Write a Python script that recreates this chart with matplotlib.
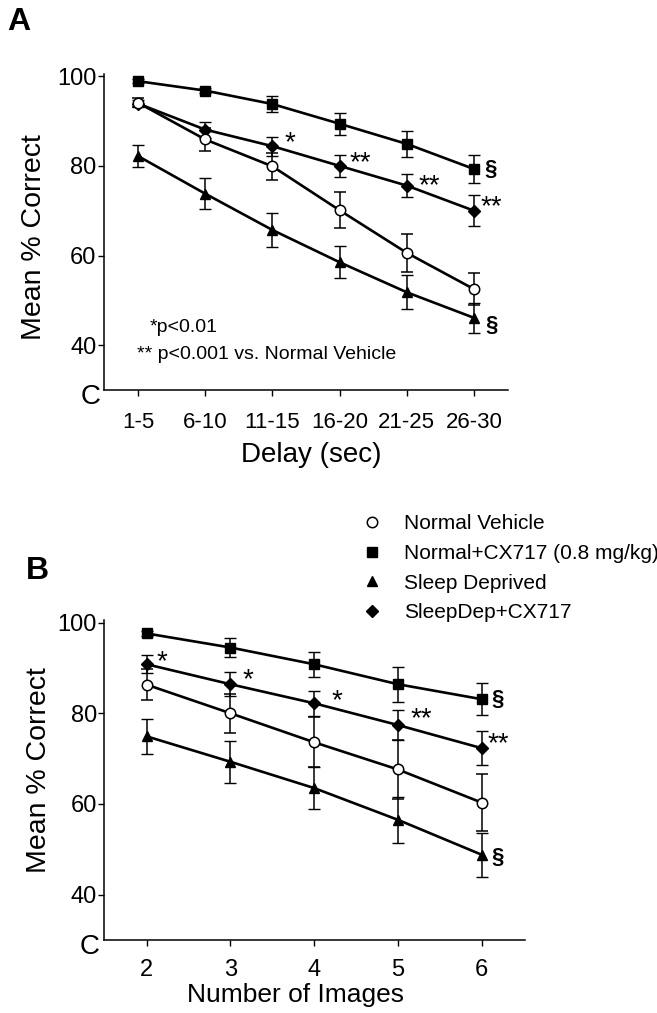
import numpy as np
import matplotlib.pyplot as plt
from matplotlib.lines import Line2D

plt.rcParams['font.family'] = ['Liberation Sans', 'DejaVu Sans']

# ---- data ----
delay_labels = ['1-5', '6-10', '11-15', '16-20', '21-25', '26-30']
n_images = [2, 3, 4, 5, 6]

group_names = ['Normal Vehicle', 'Normal+CX717 (0.8 mg/kg)',
               'Sleep Deprived', 'SleepDep+CX717']

# Panel A (delay)
a_vehicle = [94.1, 85.9, 79.9, 70.1, 60.6, 52.5]
a_vehicle_err = [1.0, 2.5, 3.0, 4.0, 4.3, 3.5]
a_cx = [98.9, 96.8, 93.8, 89.4, 84.9, 79.3]
a_cx_err = [0.5, 0.6, 1.7, 2.5, 2.9, 3.1]
a_sd = [82.2, 73.8, 65.7, 58.5, 51.8, 46.1]
a_sd_err = [2.4, 3.5, 3.8, 3.6, 3.8, 3.4]
a_sdcx = [93.9, 88.1, 84.4, 80.0, 75.6, 70.0]
a_sdcx_err = [0.8, 1.8, 2.1, 2.5, 2.6, 3.4]

# Panel B (number of images)
b_vehicle = [86.3, 80.0, 73.6, 67.6, 60.3]
b_vehicle_err = [3.4, 4.3, 5.5, 6.4, 6.2]
b_cx = [97.6, 94.5, 90.8, 86.4, 83.1]
b_cx_err = [0.5, 2.1, 2.7, 3.9, 3.5]
b_sd = [74.9, 69.3, 63.5, 56.5, 48.8]
b_sd_err = [3.9, 4.6, 4.7, 5.0, 4.8]
b_sdcx = [90.8, 86.4, 82.2, 77.4, 72.3]
b_sdcx_err = [2.0, 2.6, 2.8, 3.3, 3.7]

# significance marks: (group index, point index, label, pixel offset of the mark)
a_marks = [(3, 2, '*', (13, 9)), (3, 3, '**', (11, 9)), (3, 4, '**', (13, 5)),
           (3, 5, '**', (8, 10)), (1, 5, '§', (10, 0)), (2, 5, '§', (11, -8))]
b_marks = [(3, 0, '*', (11, 8)), (3, 1, '*', (13, 10)), (3, 2, '*', (18, 8)),
           (3, 3, '**', (14, 12)), (3, 4, '**', (7, 10)), (1, 4, '§', (10, 0)),
           (2, 4, '§', (10, -3))]

styles = [dict(marker='o', mfc='white', ms=7.5, mew=1.1),
          dict(marker='s', mfc='black', ms=6.5, mew=1.0),
          dict(marker='^', mfc='black', ms=7.8, mew=1.0),
          dict(marker='D', mfc='black', ms=6.0, mew=1.0)]

W, H = 657, 1013


def draw_panel(ax, x, series, errs, marks):
    for i, (y, e) in enumerate(zip(series, errs)):
        ax.errorbar(x, y, yerr=e, color='black', lw=1.9, elinewidth=1.1,
                    capsize=4, capthick=1.1, mec='black',
                    zorder=3 + (i == 0), **styles[i])
    for g, p, lab, (dx, dy) in marks:
        if lab == '§':
            ax.annotate(lab, (x[p], series[g][p]), xytext=(dx, dy),
                        textcoords='offset pixels', ha='left', va='center',
                        fontsize=16, fontweight='bold')
        else:
            # asterisks sit high in the text box, so shift the box down
            ax.annotate(lab, (x[p], series[g][p]), xytext=(dx - 1, dy - 6),
                        textcoords='offset pixels', ha='left', va='center',
                        fontsize=20)
    for s in ['top', 'right']:
        ax.spines[s].set_visible(False)
    for s in ['left', 'bottom']:
        ax.spines[s].set_linewidth(1.1)
    ax.tick_params(direction='out', length=4, width=1.0, labelsize=17)
    ax.tick_params(axis='y', pad=1)
    ax.set_yticks([40, 60, 80, 100])
    ax.set_ylim(30, 100.5)
    ax.set_ylabel('Mean % Correct', fontsize=20.5)


fig = plt.figure(figsize=(W / 100, H / 100), dpi=100)

# ---- panel A ----
axA = fig.add_axes([103.5 / W, 1 - 390 / H, 404.5 / W, 316 / H])
xa = np.arange(len(delay_labels))
draw_panel(axA, xa, [a_vehicle, a_cx, a_sd, a_sdcx],
           [a_vehicle_err, a_cx_err, a_sd_err, a_sdcx_err], a_marks)
axA.set_xlim(-0.513, 5.506)
axA.set_xticks(xa)
axA.set_xticklabels(delay_labels, fontsize=16)
axA.tick_params(axis='x', pad=12)
axA.set_xlabel('Delay (sec)', fontsize=20, va='baseline')
axA.xaxis.set_label_coords(0.513, -0.228)
axA.yaxis.set_label_coords(-0.14, 0.483)
fig.text(150 / W, 1 - 328 / H, '*p<0.01', fontsize=14, ha='left', va='center')
fig.text(137 / W, 1 - 354 / H, '** p<0.001 vs. Normal Vehicle', fontsize=14,
         ha='left', va='center')

# ---- panel B ----
axB = fig.add_axes([104 / W, 1 - 940 / H, 421 / W, 319.7 / H])
draw_panel(axB, n_images, [b_vehicle, b_cx, b_sd, b_sdcx],
           [b_vehicle_err, b_cx_err, b_sd_err, b_sdcx_err], b_marks)
axB.set_xlim(1.49, 6.517)
axB.set_xticks(n_images)
axB.tick_params(axis='x', pad=10)
axB.set_xlabel('Number of Images', fontsize=19, va='baseline')
axB.xaxis.set_label_coords(0.4537, -0.1925)
axB.yaxis.set_label_coords(-0.1235, 0.53)

# broken-axis "C" at the bottom of each y axis
fig.text(91 / W, 1 - 397 / H, 'C', fontsize=20, ha='center', va='center')
fig.text(90 / W, 1 - 947 / H, 'C', fontsize=20, ha='center', va='center')

# panel letters
fig.text(19 / W, 1 - 22 / H, 'A', fontsize=23, fontweight='bold',
         ha='center', va='center')
fig.text(37 / W, 1 - 571 / H, 'B', fontsize=23, fontweight='bold',
         ha='center', va='center')

handles = [Line2D([], [], color='black', linestyle='none', mec='black', **st)
           for st in styles]
fig.legend(handles, group_names, loc='upper left',
           bbox_to_anchor=(364 / W, 1 - 514 / H), frameon=False, fontsize=15,
           borderpad=0, borderaxespad=0, handlelength=0.8, handletextpad=1.1,
           labelspacing=0.52)

fig.savefig('out.png', dpi=100)
